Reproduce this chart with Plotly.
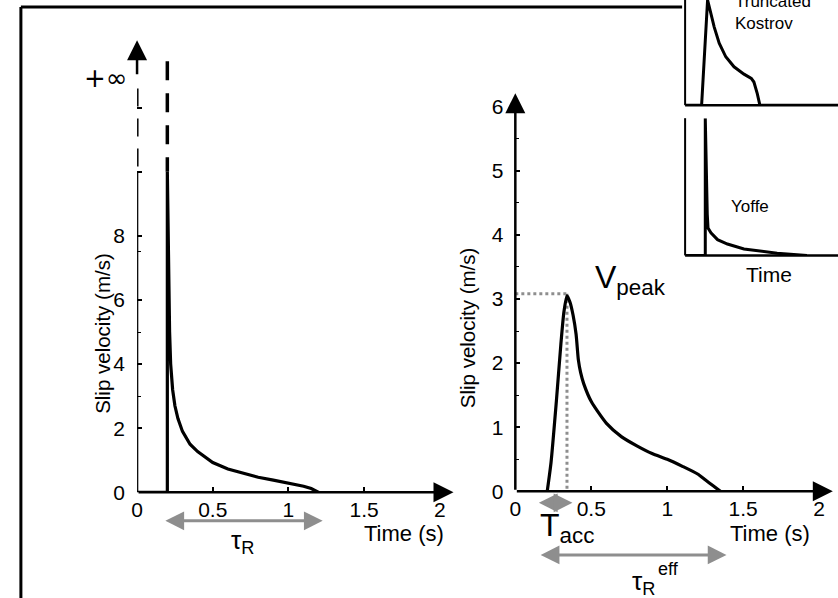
import plotly.graph_objects as go

W, H = 838, 610
REF_H = 598          # vertical extent used for placing elements
FONT = "Liberation Sans, Arial, sans-serif"
GREY = "#8e8e8e"

# --- Yoffe slip-velocity function (left panel): time (s), slip velocity (m/s)
yoffe_t = [0.0, 0.2, 0.2, 0.203, 0.206, 0.21, 0.215, 0.222, 0.235, 0.25, 0.27,
           0.3, 0.35, 0.4, 0.5, 0.6, 0.7, 0.8, 0.9, 1.0, 1.1, 1.15, 1.2]
yoffe_v = [0.0, 0.0, 10.0, 8.5, 7.0, 6.0, 5.0, 4.0, 3.2, 2.7, 2.3,
           1.9, 1.5, 1.27, 0.93, 0.73, 0.59, 0.47, 0.38, 0.29, 0.19, 0.12, 0.0]
# singular part of the Yoffe function (goes to +infinity)
yoffe_inf_t = [0.2, 0.2]
yoffe_inf_v = [13.45, 10.0]
yoffe_rise, yoffe_end = 0.177, 1.226        # tau_R extent

# --- regularized Yoffe function (right panel)
reg_t = [0.21, 0.235, 0.27, 0.30, 0.32, 0.34, 0.36, 0.38, 0.40, 0.415, 0.43,
         0.45, 0.5, 0.6, 0.7, 0.8, 0.9, 1.0, 1.1, 1.2, 1.25, 1.3, 1.35]
reg_v = [0.0, 0.45, 1.4, 2.3, 2.8, 3.05, 2.95, 2.75, 2.45, 2.05, 1.85,
         1.68, 1.4, 1.06, 0.85, 0.71, 0.59, 0.5, 0.39, 0.27, 0.18, 0.09, 0.0]
t_peak, v_peak = 0.34, 3.08
tacc_range = [0.145, 0.376]
tau_eff_range = [0.157, 1.39]

# --- schematic insets (arbitrary units)
kostrov_t = [0.0, 0.108, 0.147, 0.169, 0.19, 0.223, 0.266, 0.32, 0.385, 0.433,
             0.45, 0.472, 0.489, 1.0]
kostrov_v = [0.0, 0.0, 1.0, 0.87, 0.745, 0.59, 0.46, 0.365, 0.295, 0.254,
             0.22, 0.11, 0.0, 0.0]
yoffe_s_t = [0.0, 0.132, 0.132, 0.14, 0.145, 0.15, 0.169, 0.212, 0.277, 0.385,
             0.494, 0.602, 0.71, 0.797]
yoffe_s_v = [0.0, 0.0, 1.0, 0.5, 0.3, 0.2, 0.165, 0.115, 0.083, 0.047,
             0.029, 0.016, 0.006, 0.0]

left_xticks = [0, 0.5, 1, 1.5, 2]
left_yticks = [0, 2, 4, 6, 8, 10, 12]
left_yticktext = ["0", "2", "4", "6", "8", "", ""]
right_xticks = [0, 0.5, 1, 1.5, 2]
right_yticks = [0, 1, 2, 3, 4, 5, 6]


def px(x):
    return x / W


def py(y):
    return 1 - y / REF_H


fig = go.Figure()

line_k = dict(color="black", width=3.2)
fig.add_trace(go.Scatter(x=yoffe_t, y=yoffe_v, mode="lines", line=line_k,
                         xaxis="x", yaxis="y"))
fig.add_trace(go.Scatter(x=yoffe_inf_t, y=yoffe_inf_v, mode="lines",
                         line=dict(color="black", width=3.5, dash="19px,13px"),
                         xaxis="x", yaxis="y"))

# dotted guides for the peak
fig.add_trace(go.Scatter(x=[0, t_peak], y=[v_peak, v_peak], mode="lines",
                         line=dict(color=GREY, width=3, dash="dot"),
                         xaxis="x2", yaxis="y2"))
fig.add_trace(go.Scatter(x=[t_peak, t_peak], y=[v_peak, 0], mode="lines",
                         line=dict(color=GREY, width=3, dash="dot"),
                         xaxis="x2", yaxis="y2"))
fig.add_trace(go.Scatter(x=reg_t, y=reg_v, mode="lines",
                         line=dict(color="black", width=3.2, shape="spline", smoothing=0.6),
                         xaxis="x2", yaxis="y2"))

fig.add_trace(go.Scatter(x=kostrov_t, y=kostrov_v, mode="lines",
                         line=dict(color="black", width=3), xaxis="x3", yaxis="y3",
                         cliponaxis=False))
fig.add_trace(go.Scatter(x=yoffe_s_t, y=yoffe_s_v, mode="lines",
                         line=dict(color="black", width=3), xaxis="x4", yaxis="y4",
                         cliponaxis=False))

tickfont = dict(family=FONT, size=21, color="black")
common = dict(showgrid=False, zeroline=False, showline=False, ticks="inside",
              ticklen=5, tickwidth=1.5, tickcolor="black", tickfont=tickfont)

L_X0, L_SX = 132, 152.5
L_Y0, L_SY = 491.5, 32
R_X0, R_SX = 513, 153
R_Y0, R_SY = 490.5, 64

fig.update_layout(
    width=W, height=H, margin=dict(l=0, r=0, t=0, b=0),
    paper_bgcolor="white", plot_bgcolor="rgba(0,0,0,0)",
    showlegend=False, font=dict(family=FONT, color="black"),
    xaxis=dict(domain=[px(L_X0), px(L_X0 + 2.1 * L_SX)], range=[0, 2.1],
               tickvals=left_xticks, ticktext=["0", "0.5", "1", "1.5", "2"],
               anchor="y", ticklabelstandoff=3, **common),
    yaxis=dict(domain=[py(L_Y0), py(L_Y0 - 14.1 * L_SY)], range=[0, 14.1],
               tickvals=left_yticks, ticktext=left_yticktext, anchor="x",
               ticklabelstandoff=11,
               minor=dict(tickvals=[3, 5, 7.5], ticks="inside", ticklen=4,
                          tickwidth=1.2, tickcolor="black"),
               **common),
    xaxis2=dict(domain=[px(R_X0), px(R_X0 + 2.1 * R_SX)], range=[0, 2.1],
                tickvals=right_xticks, ticktext=["0", "0.5", "1", "1.5", "2"],
                anchor="y2", ticklabelstandoff=3, **common),
    yaxis2=dict(domain=[py(R_Y0), py(R_Y0 - 6.25 * R_SY)], range=[0, 6.25],
                tickvals=right_yticks, anchor="x2", ticklabelstandoff=11,
                minor=dict(tickvals=[0.5, 1.5, 2.5, 3.5, 4.5, 5.5], ticks="inside",
                           ticklen=4, tickwidth=1.2, tickcolor="black"),
                **common),
    xaxis3=dict(domain=[px(684), 1], range=[0, 1], visible=False, anchor="y3"),
    yaxis3=dict(domain=[py(105), 1], range=[0, 1], visible=False, anchor="x3"),
    xaxis4=dict(domain=[px(684), 1], range=[0, 1], visible=False, anchor="y4"),
    yaxis4=dict(domain=[py(255), py(118)], range=[0, 1], visible=False, anchor="x4"),
)

shapes = []
# outer frame
shapes.append(dict(type="line", xref="paper", yref="paper", x0=px(15), x1=px(15),
                   y0=py(7), y1=0, line=dict(color="black", width=3)))
shapes.append(dict(type="line", xref="paper", yref="paper", x0=px(15), x1=px(681),
                   y0=py(7), y1=py(7), line=dict(color="black", width=3)))
# left y axis: solid up to 10, dashed above (towards +infinity)
shapes.append(dict(type="line", xref="x", yref="y", x0=0, x1=0, y0=0, y1=10,
                   line=dict(color="black", width=2.5)))
shapes.append(dict(type="line", xref="x", yref="y", x0=0, x1=0, y0=12.6, y1=10,
                   line=dict(color="black", width=3, dash="18px,12px")))
# inset axes
for top, bottom in [(0, 105), (118, 255)]:
    shapes.append(dict(type="line", xref="paper", yref="paper", x0=px(684), x1=px(684),
                       y0=py(top), y1=py(bottom), line=dict(color="black", width=2)))
    shapes.append(dict(type="line", xref="paper", yref="paper", x0=px(684), x1=1,
                       y0=py(bottom), y1=py(bottom), line=dict(color="black", width=2.5)))
fig.update_layout(shapes=shapes)

ann = []


def axis_arrow(xr, yr, x0, y0, x1, y1, width=2.5, size=1.6):
    ann.append(dict(xref=xr, yref=yr, axref=xr, ayref=yr, x=x1, y=y1, ax=x0, ay=y0,
                    text="", showarrow=True, arrowhead=2, arrowsize=size,
                    arrowwidth=width, arrowcolor="black", standoff=0))


axis_arrow("x", "y", 0, 0, 2.09, 0)
axis_arrow("x", "y", 0, 13.0, 0, 14.1)
axis_arrow("x2", "y2", 0, 0, 2.09, 0)
axis_arrow("x2", "y2", 0, 0, 0, 6.21)


def span_arrow(xr, t0, t1, ypix):
    ann.append(dict(xref=xr, yref="paper", axref=xr, ayref="pixel", x=t1, y=py(ypix),
                    ax=t0, ay=0, text="", showarrow=True, arrowhead=2,
                    arrowside="end+start", arrowsize=1.25, arrowwidth=3,
                    arrowcolor=GREY, standoff=0, startstandoff=0))


span_arrow("x", yoffe_rise, yoffe_end, 520)
span_arrow("x2", tacc_range[0], tacc_range[1], 502)
span_arrow("x2", tau_eff_range[0], tau_eff_range[1], 554)


def text(s, x, y, size, xanchor="center", yanchor="middle", angle=0, align="center",
         family=FONT):
    ann.append(dict(xref="paper", yref="paper", x=px(x), y=py(y), text=s,
                    showarrow=False, xanchor=xanchor, yanchor=yanchor,
                    textangle=angle, align=align,
                    font=dict(family=family, size=size, color="black")))


text("Slip velocity (m/s)", 97, 333, 20.5, angle=-90)
text("Slip velocity (m/s)", 465, 327, 20.5, angle=-90)
text("Time (s)", 401, 533, 22)
text("Time (s)", 770, 533, 22)
text("+∞", 100, 78, 26, family="DejaVu Sans")
text("τ<sub>R</sub>", 238, 541, 26)
text("T<sub>acc</sub>", 565, 527, 32)
text("τ<sub>R</sub>", 642, 582, 26)
text("eff", 667, 568, 18)
text("V<sub>peak</sub>", 629, 279, 32)
text("Truncated<br>Kostrov", 732, 12, 17, xanchor="left", align="left")
text("Yoffe", 749, 206, 17)
text("Time", 769, 274, 21)
fig.update_layout(annotations=ann)

fig.write_html("out.html")
